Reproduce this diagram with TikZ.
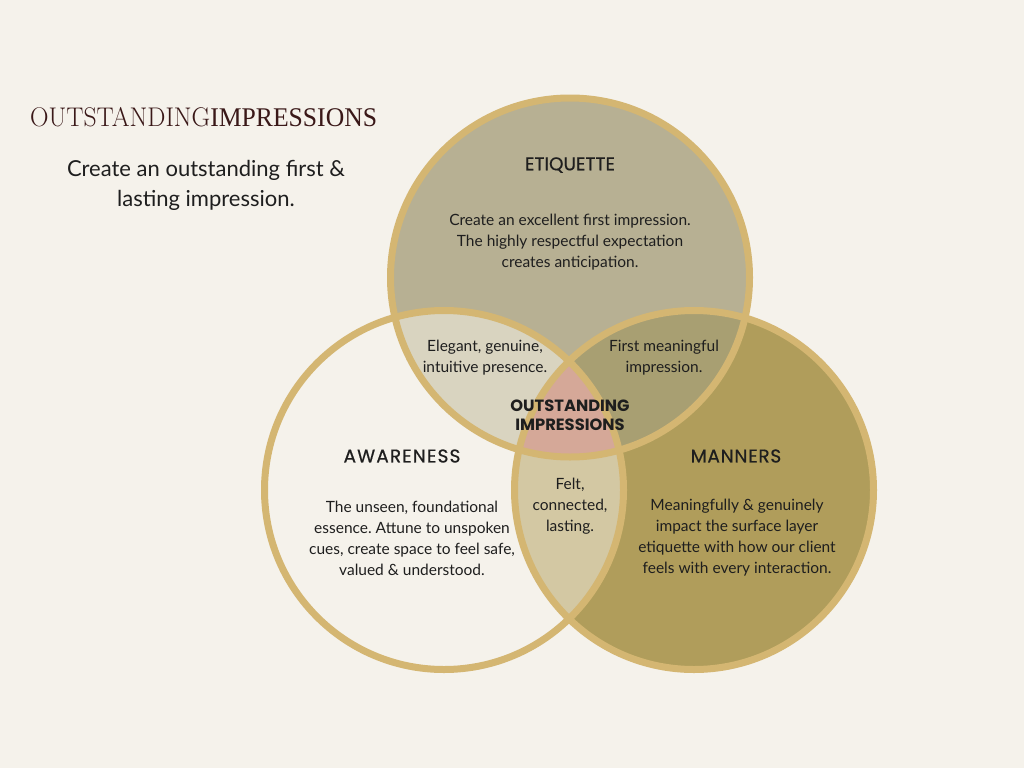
\documentclass[tikz,border=0pt]{standalone}
\usepackage{fontspec}
\newfontfamily\bodyfont{Lato}
\newfontfamily\headfont[FakeBold=0.6]{Poppins}
\newfontfamily\midfont{Poppins}
\newfontfamily\titleB{Liberation Serif}
\frenchspacing
\definecolor{bg}{HTML}{F5F2EB}
\definecolor{ring}{HTML}{D4B672}
\definecolor{topc}{HTML}{B7B093}
\definecolor{rightc}{HTML}{B09D5B}
\definecolor{leftc}{HTML}{F5F2EB}
\definecolor{tlc}{HTML}{D9D4C0}
\definecolor{trc}{HTML}{A89F72}
\definecolor{lrc}{HTML}{D3C8A3}
\definecolor{midc}{HTML}{D5A898}
\definecolor{ink}{HTML}{1E1E1E}
\definecolor{maroon}{HTML}{3A1818}
\tikzset{
  body/.style={font=\bodyfont\frenchspacing\fontsize{15.5}{21}\selectfont, align=center, text=ink, inner sep=0pt},
  head/.style={font=\headfont\fontsize{18.5}{20}\selectfont, text=ink, inner sep=0pt},
  ringline/.style={draw=ring, line width=7pt}
}
\def\R{179.5}
\begin{document}
\begin{tikzpicture}[x=1pt,y=-1pt]
\useasboundingbox (0,0) rectangle (1024,768);
\fill[bg] (0,0) rectangle (1024,768);
\coordinate (cT) at (570,277.5);
\coordinate (cL) at (444,490);
\coordinate (cR) at (694,490);
% base fills
\fill[topc] (cT) circle (\R);
\fill[leftc] (cL) circle (\R);
\fill[rightc] (cR) circle (\R);
\begin{scope}\clip (cT) circle (\R); \fill[tlc] (cL) circle (\R); \end{scope}
\begin{scope}\clip (cT) circle (\R); \fill[trc] (cR) circle (\R); \end{scope}
\begin{scope}\clip (cL) circle (\R); \fill[lrc] (cR) circle (\R); \end{scope}
\begin{scope}\clip (cT) circle (\R); \clip (cL) circle (\R); \fill[midc] (cR) circle (\R); \end{scope}
% rings
\draw[ringline] (cT) circle (\R);
\draw[ringline] (cL) circle (\R);
\draw[ringline] (cR) circle (\R);
% title
\node[anchor=west, inner sep=0pt, text=maroon, font=\fontsize{27}{30}\selectfont] (title) at (30,117)
  {\scalebox{0.95}[1]{OUTSTANDING\titleB IMPRESSIONS}};
\node[font=\bodyfont\fontsize{22}{30}\selectfont, align=center, text=ink, inner sep=0pt] (sub) at (206,185)
  {Create an outstanding first \&\\lasting impression.};
% etiquette
\node[head] (etq) at (570,165) {ETIQUETTE};
\node[body] (etqtxt) at (570,242) {Create an excellent first impression.\\The highly respectful expectation\\creates anticipation.};
% overlaps
\node[body] (tl) at (485,358) {Elegant, genuine,\\intuitive presence.};
\node[body] (tr) at (664,358) {First meaningful\\impression.};
\node[inner sep=0pt, text=ink, font=\midfont\bfseries\fontsize{16.3}{19}\selectfont, align=center] (mid) at (570,415) {OUTSTANDING\\IMPRESSIONS};
\node[body] (lr) at (570,506) {Felt,\\connected,\\lasting.};
% awareness
\node[head, font=\headfont\addfontfeatures{LetterSpace=6}\fontsize{18.5}{20}\selectfont] (awr) at (402,456) {AWARENESS};
\node[body] (awrtxt) at (412,538) {The unseen, foundational\\essence. Attune to unspoken\\cues, create space to feel safe,\\valued \& understood.};
% manners
\node[head, font=\headfont\addfontfeatures{LetterSpace=4}\fontsize{18.5}{20}\selectfont] (mnr) at (736,456) {MANNERS};
\node[body] (mnrtxt) at (737,538) {Meaningfully \& genuinely\\impact the surface layer\\etiquette with how our client\\feels with every interaction.};
\end{tikzpicture}
\end{document}
